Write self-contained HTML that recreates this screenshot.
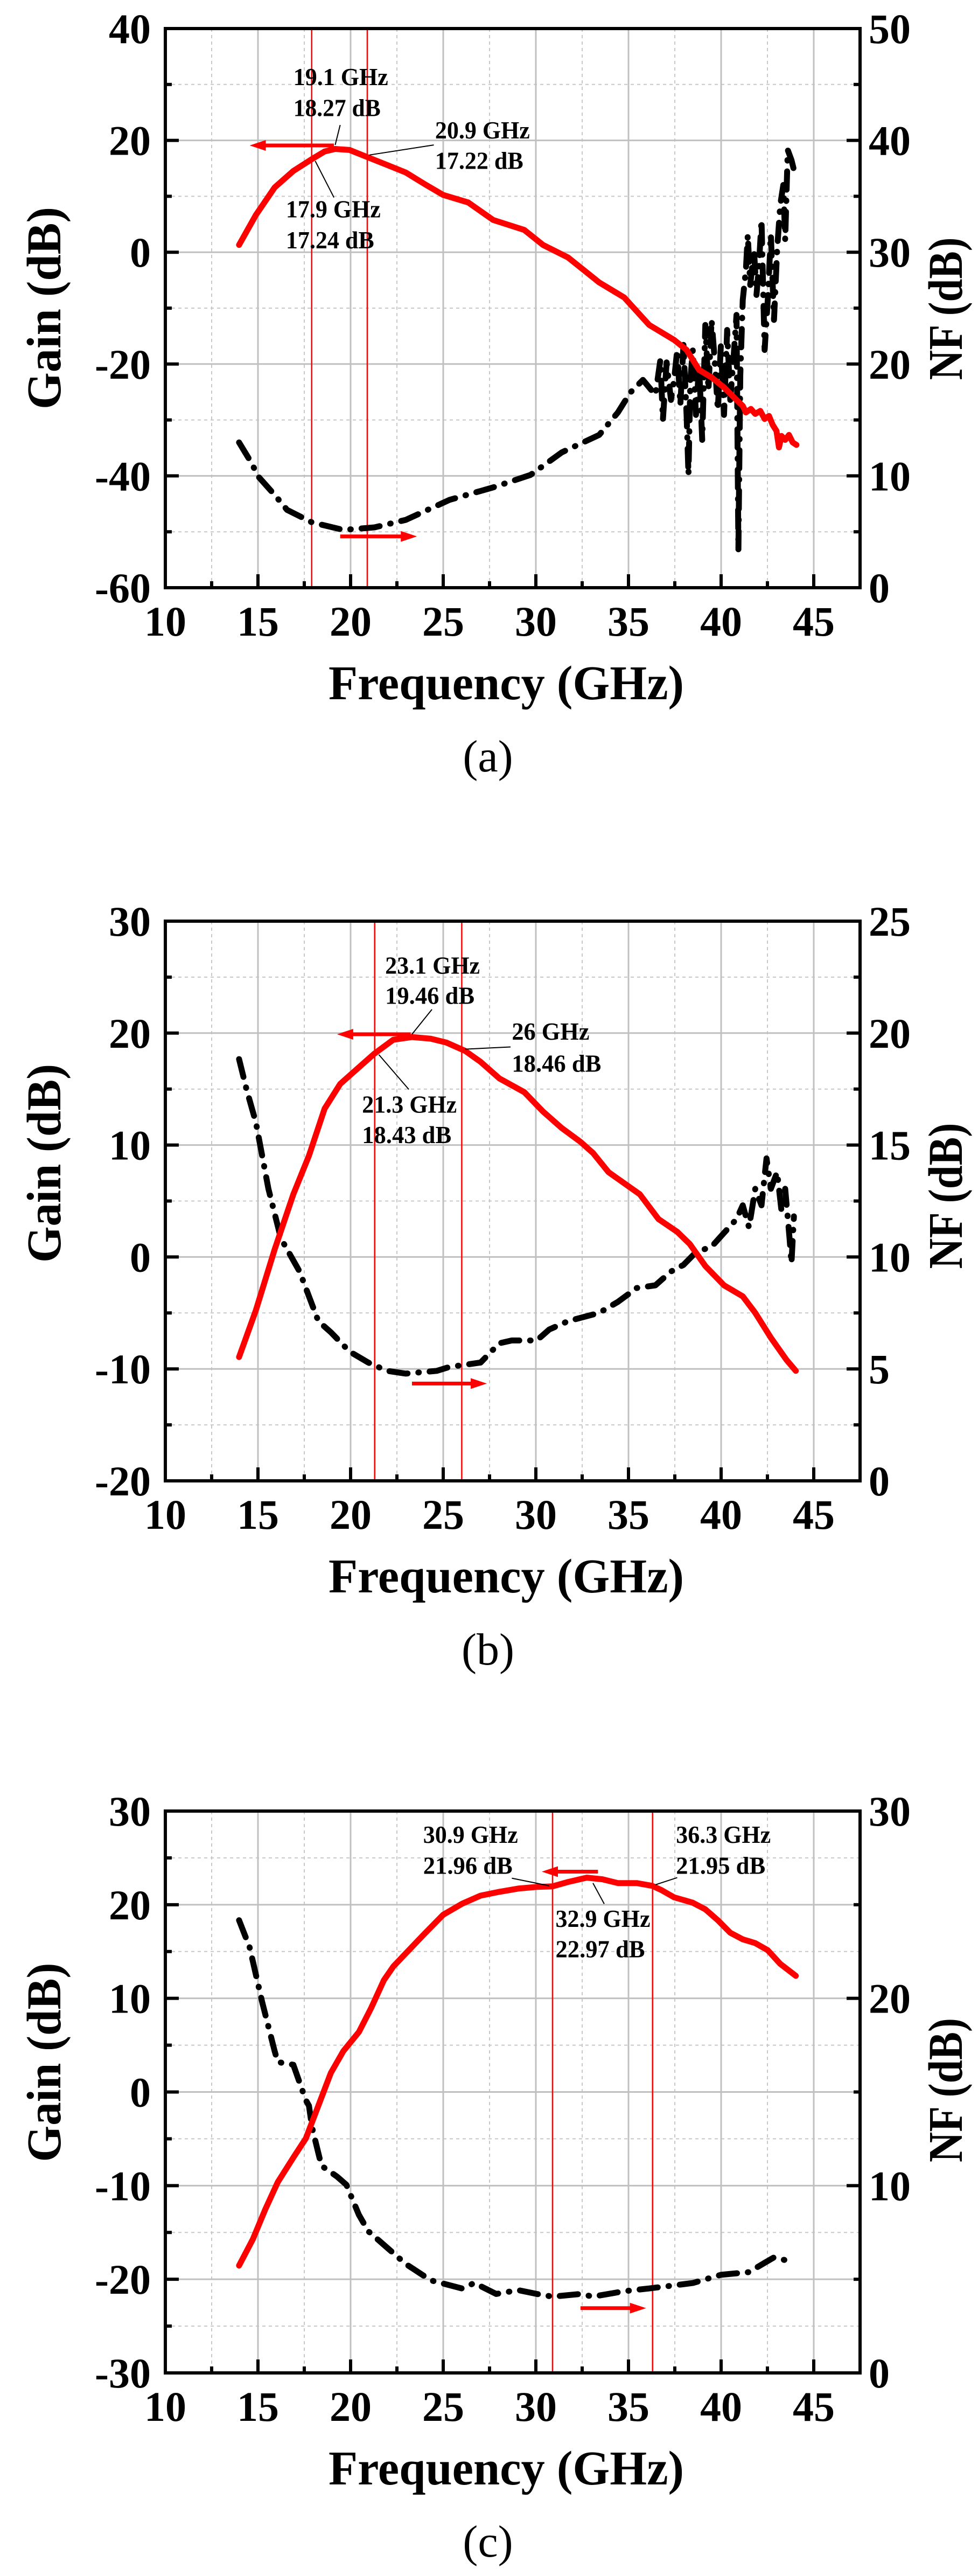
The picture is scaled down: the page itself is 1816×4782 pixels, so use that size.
<!DOCTYPE html>
<html><head><meta charset="utf-8">
<style>
html,body{margin:0;padding:0;background:#fff;}
svg{display:block;}
text{font-family:"Liberation Serif",serif;}
</style></head>
<body>
<svg id="s" xmlns="http://www.w3.org/2000/svg" width="1816" height="4782" viewBox="0 0 1816 4782"></svg>
<script>
var S=document.getElementById('s');
var NS='http://www.w3.org/2000/svg';
function el(t,a,txt){var e=document.createElementNS(NS,t);for(var k in a)e.setAttribute(k,a[k]);if(txt!==undefined)e.textContent=txt;S.appendChild(e);return e;}
var XL=307,XR=1597;
function gx(f){return XL+(f-10)*34.4;}
function zx(z){return z*1.159;}

function chart(o){
  var T=o.top,B=o.bottom;
  var gy=function(g){return T+(o.gmax-g)/(o.gmax-o.gmin)*(B-T);};
  var zy=o.zy;
  for(var f=12.5;f<47.5;f+=5){el('line',{x1:gx(f),y1:T,x2:gx(f),y2:B,stroke:'#c8c8c8','stroke-width':2,'stroke-dasharray':'6 6'});}
  var st=o.gstep;
  for(var g=o.gmin+st/2;g<o.gmax;g+=st){el('line',{x1:XL,y1:gy(g),x2:XR,y2:gy(g),stroke:'#c8c8c8','stroke-width':2,'stroke-dasharray':'6 6'});}
  for(var f=15;f<=45;f+=5){el('line',{x1:gx(f),y1:T,x2:gx(f),y2:B,stroke:'#c0c0c0','stroke-width':3});}
  for(var g=o.gmin+st;g<o.gmax;g+=st){el('line',{x1:XL,y1:gy(g),x2:XR,y2:gy(g),stroke:'#c0c0c0','stroke-width':3});}
  o.vl.forEach(function(f){el('line',{x1:gx(f),y1:T,x2:gx(f),y2:B,stroke:'#ff0000','stroke-width':2.5});});
  for(var g=o.gmin;g<=o.gmax;g+=st/2){var maj=Math.abs(((g-o.gmin)/st)%1)<1e-6;var L=maj?25:12;var y=gy(g);
    el('line',{x1:XL,y1:y,x2:XL+L,y2:y,stroke:'#000','stroke-width':6});}
  var nst=o.nstep;
  for(var n=0;n<=o.nmax;n+=nst/2){var maj=Math.abs((n/nst)%1)<1e-6;var L=maj?25:12;var y=B-(n/o.nmax)*(B-T);
    el('line',{x1:XR,y1:y,x2:XR-L,y2:y,stroke:'#000','stroke-width':6});}
  for(var f=12.5;f<=45;f+=2.5){var maj=(f%5)==0;var L=maj?25:12;el('line',{x1:gx(f),y1:B,x2:gx(f),y2:B-L,stroke:'#000','stroke-width':6});}
  el('rect',{x:XL,y:T,width:XR-XL,height:B-T,fill:'none',stroke:'#000','stroke-width':6});
  for(var g=o.gmin;g<=o.gmax;g+=st){el('text',{x:280,y:gy(g)+27,'text-anchor':'end','font-size':78,'font-weight':'bold'},String(g));}
  for(var n=0;n<=o.nmax;n+=nst){el('text',{x:1613,y:B-(n/o.nmax)*(B-T)+27,'font-size':78,'font-weight':'bold'},String(n));}
  for(var f=10;f<=45;f+=5){el('text',{x:gx(f),y:B+89,'text-anchor':'middle','font-size':78,'font-weight':'bold'},String(f));}
  el('text',{x:940,y:B+207,'text-anchor':'middle','font-size':90,'font-weight':'bold',textLength:660,lengthAdjust:'spacingAndGlyphs'},'Frequency (GHz)');
  var gc=(T+B)/2+o.gdy;
  el('text',{x:0,y:0,'text-anchor':'middle','font-size':90,'font-weight':'bold',textLength:o.gl,lengthAdjust:'spacingAndGlyphs',transform:'translate(112,'+gc+') rotate(-90)'},'Gain (dB)');
  el('text',{x:0,y:0,'text-anchor':'middle','font-size':90,'font-weight':'bold',textLength:o.nl,lengthAdjust:'spacingAndGlyphs',transform:'translate(1786,'+(o.nc)+') rotate(-90)'},'NF (dB)');
  el('text',{x:906,y:B+341,'text-anchor':'middle','font-size':84},o.lab);
  function pts(a){return a.map(function(p){return zx(p[0]).toFixed(1)+','+zy(p[1]).toFixed(1);}).join(' ');}
  el('polyline',{points:pts(o.black),fill:'none',stroke:'#000','stroke-width':11,'stroke-linecap':'round','stroke-linejoin':'round','stroke-dasharray':'34 20 1 20'});
  el('polyline',{points:pts(o.red),fill:'none',stroke:'#ff0000','stroke-width':11,'stroke-linecap':'round','stroke-linejoin':'round'});
  var L=o.lead;
  for(var i=0;i+3<L.length;i+=4){el('line',{x1:zx(L[i]),y1:zy(L[i+1]),x2:zx(L[i+2]),y2:zy(L[i+3]),stroke:'#000','stroke-width':2});}
  o.arr.forEach(function(a){var x1=zx(a[0]),x2=zx(a[2]),y=zy(a[1]);var d=x2<x1?1:-1;
    el('line',{x1:x1,y1:y,x2:x2+d*20,y2:y,stroke:'#ff0000','stroke-width':7});
    el('polygon',{points:x2+','+y+' '+(x2+d*30)+','+(y-10)+' '+(x2+d*30)+','+(y+10),fill:'#ff0000'});});
  o.ann.forEach(function(a){el('text',{x:zx(a[0]),y:zy(a[1]),'font-size':46,'font-weight':'bold',textLength:a[3],lengthAdjust:'spacingAndGlyphs'},a[2]);});
}

var za=function(y){return y*0.928;};
chart({top:53,bottom:1091,gmin:-60,gmax:40,gstep:20,nmax:50,nstep:10,zy:za,vl:[17.9,20.9],gdy:0,gl:376,nl:265,nc:573,lab:'(a)',
red:[[383,490],[410,430],[440,375],[470,342],[500,318],[520,303],[537,298],[560,300],[590,315],[620,330],[650,345],[680,368],[710,390],[750,405],[790,440],[840,460],[870,490],[910,515],[960,565],[1000,595],[1040,650],[1080,680],[1100,700],[1120,740],[1140,755],[1160,775],[1180,800],[1190,812],[1195,825],[1203,818],[1210,828],[1218,822],[1225,838],[1232,832],[1238,850],[1244,862],[1248,895],[1252,872],[1258,880],[1264,870],[1270,885],[1276,890]],
black:[[383,885],[400,920],[415,955],[440,990],[460,1020],[500,1045],[550,1060],[600,1055],[650,1040],[720,1000],[790,975],[850,950],[900,905],[960,870],[990,825],[1010,785],[1030,760],[1040,775],[1050,790],[1058,720],[1062,840],[1068,725],[1075,800],[1080,760],[1085,700],[1090,810],[1095,690],[1100,830],[1103,950],[1106,760],[1110,700],[1115,830],[1120,730],[1125,880],[1130,650],[1135,780],[1140,640],[1145,720],[1150,820],[1155,690],[1160,830],[1165,660],[1170,800],[1175,720],[1180,630],[1183,1100],[1186,750],[1190,600],[1195,540],[1198,470],[1202,570],[1208,500],[1212,590],[1216,530],[1220,440],[1225,700],[1230,600],[1235,470],[1240,640],[1245,500],[1250,410],[1255,370],[1258,480],[1262,300],[1268,320],[1272,340]],
lead:[537,290,545,250,592,310,695,290,505,322,535,395],
arr:[[535,291,400],[545,1073,668]],
ann:[[470,170,'19.1 GHz',176],[470,232,'18.27 dB',162],[697,277,'20.9 GHz',176],[697,338,'17.22 dB',164],[458,435,'17.9 GHz',176],[458,497,'17.24 dB',164]]
});

var zb=function(y){return 1500+y*1.0243;};
chart({top:1710,bottom:2749,gmin:-20,gmax:30,gstep:10,nmax:25,nstep:5,zy:zb,vl:[21.3,26],gdy:-70,gl:369,nl:271,nc:2220,lab:'(b)',
red:[[383,995],[410,910],[440,800],[470,700],[495,630],[520,545],[545,500],[575,470],[600,445],[630,420],[660,415],[690,418],[715,425],[745,440],[770,460],[800,490],[840,515],[870,550],[900,580],[930,605],[950,625],[975,660],[1000,680],[1025,700],[1055,745],[1085,768],[1105,790],[1130,830],[1160,865],[1190,885],[1210,915],[1235,960],[1260,1000],[1275,1020]],
black:[[383,455],[395,510],[410,570],[430,690],[450,780],[480,840],[510,930],[530,950],[560,985],[590,1005],[620,1020],[650,1025],[700,1020],[720,1013],[770,1005],[800,970],[820,965],[860,965],[880,945],[910,930],[960,915],[990,895],[1020,870],[1050,865],[1075,840],[1095,828],[1115,805],[1140,795],[1160,770],[1180,745],[1190,720],[1200,760],[1210,690],[1220,720],[1228,635],[1235,690],[1245,660],[1252,730],[1258,690],[1265,780],[1268,825],[1272,740]],
lead:[660,410,692,365,745,437,818,433,607,447,655,510],
arr:[[658,410,540],[660,1043,780]],
ann:[[617,300,'23.1 GHz',176],[617,355,'19.46 dB',166],[820,420,'26 GHz',144],[820,478,'18.46 dB',166],[580,552,'21.3 GHz',176],[580,607,'18.43 dB',166]]
});

var zc=function(y){return 3200+y*1.0128;};
chart({top:3362,bottom:4405,gmin:-30,gmax:30,gstep:10,nmax:30,nstep:10,zy:zc,vl:[30.9,36.3],gdy:-55,gl:370,nl:268,nc:3880,lab:'(c)',
red:[[383,993],[405,945],[425,890],[445,840],[470,795],[490,760],[510,700],[530,640],[550,600],[575,565],[595,520],[615,470],[630,445],[655,415],[680,385],[710,350],[740,330],[770,315],[800,308],[830,302],[860,299],[885,298],[910,290],[940,282],[965,285],[990,292],[1020,292],[1045,297],[1060,305],[1080,318],[1110,328],[1130,340],[1150,360],[1170,383],[1190,395],[1210,402],[1230,415],[1250,440],[1275,462]],
black:[[383,360],[400,410],[420,510],[440,600],[445,620],[470,625],[490,690],[495,700],[500,740],[515,810],[540,830],[555,845],[575,900],[590,930],[620,960],[650,990],[690,1020],[740,1035],[760,1025],[795,1045],[830,1038],[860,1045],[885,1050],[930,1045],[950,1050],[1000,1040],[1040,1035],[1075,1030],[1110,1025],[1155,1010],[1200,1005],[1225,988],[1240,978],[1265,985]],
lead:[820,283,880,297,1050,295,1085,282,950,292,968,330],
arr:[[958,271,868],[930,1071,1035]],
ann:[[678,218,'30.9 GHz',176],[678,275,'21.96 dB',166],[1083,218,'36.3 GHz',176],[1083,275,'21.95 dB',166],[890,372,'32.9 GHz',176],[890,428,'22.97 dB',166]]
});
</script>
</body></html>
